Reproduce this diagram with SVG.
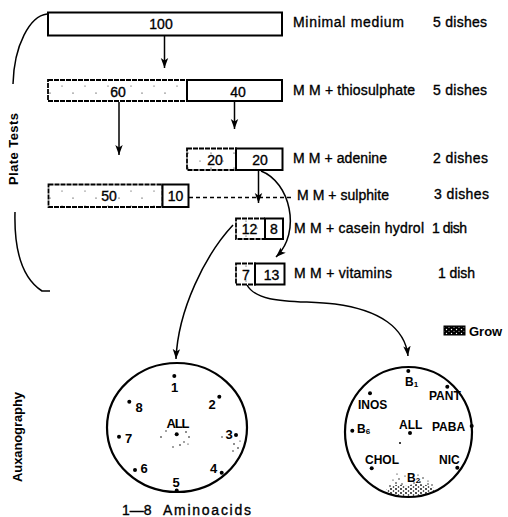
<svg xmlns="http://www.w3.org/2000/svg" width="508" height="517" viewBox="0 0 508 517">
<defs>
<style>
text{font-family:"Liberation Sans",Arial,sans-serif;fill:#000}
.num{font-size:14px;text-anchor:middle;stroke:#000;stroke-width:0.35}
.lbl{font-size:14px;stroke:#000;stroke-width:0.35}
.side{font-size:13px;font-weight:bold}
.d1{font-size:13px;font-weight:bold;text-anchor:middle}
.d2{font-size:12px;font-weight:bold}
.box{fill:#fff;stroke:#000;stroke-width:2}
.grow{fill:url(#speck);stroke:#000;stroke-width:1.8;stroke-dasharray:5 1}
.conn{fill:none;stroke:#000;stroke-width:1.5}
.arr{marker-end:url(#ah)}
.dash{stroke-dasharray:4 3}
.dish{fill:#fff;stroke:#000;stroke-width:2.2}
.dot{fill:#000}
.sp{fill:#000}
</style>
<marker id="ah" markerUnits="userSpaceOnUse" markerWidth="11" markerHeight="9" refX="10" refY="4.5" orient="auto">
<path d="M0,0.8 L10,4.5 L0,8.2 L2.5,4.5 Z" fill="#000"/>
</marker>
<pattern id="speck" patternUnits="userSpaceOnUse" width="23" height="15">
<rect width="23" height="15" fill="#fff"/>
<circle cx="4" cy="3" r="0.6" fill="#000"/>
<circle cx="16" cy="11" r="0.5" fill="#000"/>
</pattern>
<pattern id="legend" patternUnits="userSpaceOnUse" width="5" height="4">
<rect width="5" height="4" fill="#000"/>
<circle cx="1.5" cy="1.5" r="0.7" fill="#fff"/>
<circle cx="4" cy="3.2" r="0.5" fill="#fff"/>
</pattern>
<pattern id="dense" patternUnits="userSpaceOnUse" width="5" height="4">
<circle cx="1" cy="1" r="0.9" fill="#000"/>
<circle cx="3.5" cy="3" r="0.8" fill="#000"/>
</pattern>
<clipPath id="rdclip"><ellipse cx="408.5" cy="432" rx="63" ry="64.5"/></clipPath>
</defs>

<g id="side-labels">
<path class="conn" d="M47,14 C 30,16 14,45 13,84"/>
<path class="conn" d="M15,212 C 14,250 22,278 42,291 L50,291"/>
<text class="side" transform="translate(18,149) rotate(-90)" text-anchor="middle" textLength="72">Plate Tests</text>
<text class="side" transform="translate(22,437) rotate(-90)" text-anchor="middle" textLength="90">Auxanography</text>
</g>

<g id="connectors">
<line class="conn arr" x1="164.5" y1="36" x2="164.5" y2="68"/>
<line class="conn arr" x1="119" y1="102" x2="119" y2="155"/>
<line class="conn arr" x1="234.5" y1="102" x2="234.5" y2="129"/>
<line class="conn arr" x1="258.5" y1="171" x2="258.5" y2="203"/>
<path class="conn arr" d="M261,171 C 290,182 302,232 276,257"/>
<line class="conn dash" x1="189" y1="197.5" x2="294" y2="197.5"/>
<path class="conn arr" d="M233,225 C 205,255 178,310 176,359"/>
<path class="conn arr" d="M247,285 C 258,305 300,300 335,304 C 380,310 405,328 408,356"/>
</g>

<g id="node-minimal">
<rect class="box" x="48" y="12.5" width="234" height="23"/>
<text class="num" x="161" y="29">100</text>
<text class="lbl" x="293" y="27" textLength="111">Minimal medium</text>
<text class="lbl" x="433" y="27" textLength="54">5 dishes</text>
</g>

<g id="node-thiosulphate">
<rect class="grow" x="48" y="80" width="139" height="21"/>
<rect class="box" x="187" y="80" width="95" height="21"/>
<text class="num" x="118" y="96.5">60</text>
<text class="num" x="238" y="96.5">40</text>
<text class="lbl" x="293" y="95" textLength="122">M M + thiosulphate</text>
<text class="lbl" x="433" y="95" textLength="54">5 dishes</text>
</g>

<g id="node-adenine">
<rect class="grow" x="187" y="148.5" width="49" height="21.5"/>
<rect class="box" x="236" y="148.5" width="46.5" height="21.5"/>
<text class="num" x="215" y="165">20</text>
<text class="num" x="260" y="165">20</text>
<text class="lbl" x="293" y="163" textLength="94">M M + adenine</text>
<text class="lbl" x="433" y="163" textLength="55">2 dishes</text>
</g>

<g id="node-sulphite">
<rect class="grow" x="48.5" y="184.5" width="114" height="22.5"/>
<rect class="box" x="162.5" y="184.5" width="26" height="22.5"/>
<text class="num" x="109" y="201">50</text>
<text class="num" x="175.5" y="201">10</text>
<text class="lbl" x="297" y="200" textLength="92">M M + sulphite</text>
<text class="lbl" x="434" y="199" textLength="55">3 dishes</text>
</g>

<g id="node-casein">
<rect class="grow" x="236" y="218.5" width="29" height="20.5"/>
<rect class="box" x="265" y="218.5" width="18" height="20.5"/>
<text class="num" x="249.5" y="234">12</text>
<text class="num" x="274" y="234">8</text>
<text class="lbl" x="294" y="233" textLength="130">M M + casein hydrol</text>
<text class="lbl" x="432" y="233" textLength="35">1 dish</text>
</g>

<g id="node-vitamins">
<rect class="grow" x="236" y="263.5" width="19" height="21"/>
<rect class="box" x="255" y="263.5" width="29.5" height="21"/>
<text class="num" x="246" y="279.5">7</text>
<text class="num" x="271.5" y="279.5">13</text>
<text class="lbl" x="294" y="278" textLength="98">M M + vitamins</text>
<text class="lbl" x="438" y="278" textLength="37">1 dish</text>
</g>

<g id="legend">
<rect x="444" y="326" width="21" height="9" fill="url(#legend)" stroke="#000" stroke-width="1"/>
<text x="469" y="336" font-size="13" font-weight="bold">Grow</text>
</g>

<g id="dish-aminoacids">
<ellipse class="dish" cx="177" cy="427.5" rx="70" ry="64.5"/>
<circle class="dot" cx="174.3" cy="376" r="2"/>
<circle class="dot" cx="219.3" cy="396.7" r="2"/>
<circle class="dot" cx="129.3" cy="401.7" r="2"/>
<circle class="dot" cx="119" cy="436.7" r="2"/>
<circle class="dot" cx="176.7" cy="434.3" r="2"/>
<circle class="dot" cx="236" cy="435" r="2"/>
<circle class="dot" cx="135" cy="470" r="2"/>
<circle class="dot" cx="221.7" cy="472.7" r="2"/>
<circle class="dot" cx="176.7" cy="490.5" r="2"/>
<text class="d1" x="174.5" y="391.5">1</text>
<text class="d1" x="212" y="409">2</text>
<text class="d1" x="139" y="411.5">8</text>
<text class="d1" x="128.5" y="442.5">7</text>
<text class="d1" x="178" y="428" textLength="23">ALL</text>
<text class="d1" x="229" y="439">3</text>
<text class="d1" x="144" y="473">6</text>
<text class="d1" x="213.5" y="472.5">4</text>
<text class="d1" x="176" y="486.5">5</text>
<g class="sp">
<circle cx="161" cy="437" r="0.8"/><circle cx="166" cy="431" r="0.7"/><circle cx="186" cy="432" r="0.8"/>
<circle cx="189" cy="437" r="0.8"/><circle cx="184" cy="442" r="0.7"/><circle cx="180" cy="445" r="0.8"/>
<circle cx="173" cy="447" r="0.7"/><circle cx="188" cy="444" r="0.6"/>
<circle cx="222" cy="437" r="0.7"/><circle cx="234" cy="444" r="0.8"/><circle cx="238" cy="448" r="0.8"/>
<circle cx="233" cy="451" r="0.7"/><circle cx="240" cy="441" r="0.6"/>
</g>
<text x="122" y="515" font-size="14" stroke="#000" stroke-width="0.35">1—8</text>
<text x="163" y="515" font-size="14" textLength="88" stroke="#000" stroke-width="0.35">Aminoacids</text>
</g>

<g id="dish-vitamins">
<ellipse class="dish" cx="408.5" cy="432" rx="63.5" ry="65"/>
<path d="M384,500 L386,490 Q 396,482 406,486 Q 420,481 434,488 L442,500 Z" fill="url(#dense)" clip-path="url(#rdclip)"/>
<g class="sp" clip-path="url(#rdclip)">
<circle cx="390" cy="486" r="0.8"/><circle cx="396" cy="483" r="0.8"/><circle cx="402" cy="484" r="0.7"/>
<circle cx="414" cy="483" r="0.7"/><circle cx="420" cy="482" r="0.8"/><circle cx="428" cy="484" r="0.7"/>
<circle cx="399" cy="479" r="0.7"/><circle cx="405" cy="476" r="0.6"/><circle cx="423" cy="478" r="0.7"/>
<circle cx="428" cy="481" r="0.6"/><circle cx="393" cy="480" r="0.6"/><circle cx="397" cy="474" r="0.6"/>
<circle cx="418" cy="475" r="0.6"/><circle cx="432" cy="485" r="0.7"/>
</g>
<circle class="dot" cx="408.3" cy="371" r="2"/>
<circle class="dot" cx="447.3" cy="386.7" r="2"/>
<circle class="dot" cx="370" cy="393.3" r="2"/>
<circle class="dot" cx="471.7" cy="426" r="2"/>
<circle class="dot" cx="352.3" cy="430.7" r="2"/>
<circle class="dot" cx="371.7" cy="468.3" r="2"/>
<circle class="dot" cx="457.3" cy="467.7" r="2"/>
<circle class="dot" cx="410" cy="433" r="2"/>
<circle class="dot" cx="400" cy="443" r="1"/>
<text class="d2" x="405" y="386">B<tspan font-size="8" dy="1">1</tspan></text>
<text class="d2" x="429" y="399.5">PANT</text>
<text class="d2" x="358" y="409">INOS</text>
<text class="d2" x="432" y="431">PABA</text>
<text class="d2" x="357" y="433">B<tspan font-size="8" dy="1">6</tspan></text>
<text class="d2" x="399" y="428.5">ALL</text>
<text class="d2" x="365" y="463.5">CHOL</text>
<text class="d2" x="439" y="464">NIC</text>
<text class="d2" x="407" y="482">B<tspan font-size="8" dy="1">2</tspan></text>
</g>
</svg>
